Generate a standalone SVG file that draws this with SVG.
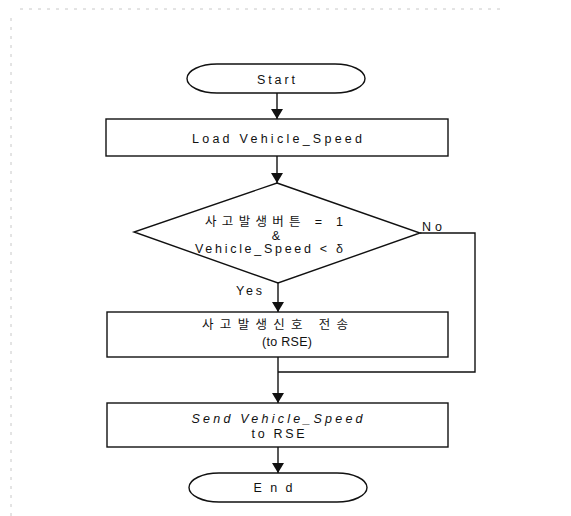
<svg xmlns="http://www.w3.org/2000/svg" width="571" height="516" viewBox="0 0 571 516">
<style>
.shape{fill:#fff;stroke:#111;stroke-width:1.4}
.edge{fill:none;stroke:#111;stroke-width:1.4}
text{font-family:"Liberation Sans","Noto Sans CJK KR",sans-serif;font-size:12.5px;fill:#111;text-anchor:middle}
.frame{stroke:#c8c8c8;stroke-width:1;stroke-dasharray:3 6;fill:none}
</style>
<defs>
<marker id="arr" viewBox="0 0 10 12" refX="10" refY="6" markerWidth="10" markerHeight="12" markerUnits="userSpaceOnUse" orient="auto">
<path d="M0,0 L10,6 L0,12 Z" fill="#111"/>
</marker>
</defs>
<rect width="571" height="516" fill="#fff"/>
<g id="page-frame">
<line class="frame" x1="20" y1="9" x2="500" y2="9"/>
<line class="frame" x1="11" y1="18" x2="11" y2="516"/>
</g>
<g id="connectors">
<line class="edge" x1="277" y1="93" x2="277" y2="119" marker-end="url(#arr)"/>
<line class="edge" x1="277" y1="156" x2="277" y2="183" marker-end="url(#arr)"/>
<line class="edge" x1="278" y1="283" x2="278" y2="312" marker-end="url(#arr)"/>
<polyline class="edge" points="420,233 475,233 475,372 278,372"/>
<line class="edge" x1="278" y1="357" x2="278" y2="403" marker-end="url(#arr)"/>
<line class="edge" x1="278" y1="447" x2="278" y2="473" marker-end="url(#arr)"/>
<text x="432" y="231" textLength="20" lengthAdjust="spacing">No</text>
<text x="249" y="295" textLength="26" lengthAdjust="spacing">Yes</text>
</g>
<g id="start">
<rect class="shape" x="187" y="64" width="178" height="29" rx="30" ry="14.5"/>
<text x="276" y="84" textLength="38" lengthAdjust="spacing">Start</text>
</g>
<g id="load">
<rect class="shape" x="106" y="119" width="342" height="37"/>
<text x="277" y="143" textLength="170" lengthAdjust="spacing">Load Vehicle_Speed</text>
</g>
<g id="decision">
<polygon class="shape" points="277,183 420,233 278,283 134,232"/>
<text x="274" y="226" textLength="138" lengthAdjust="spacing">사고발생버튼 = 1</text>
<text x="276" y="240">&amp;</text>
<text x="269" y="253" textLength="148" lengthAdjust="spacing">Vehicle_Speed &lt; δ</text>
</g>
<g id="send-signal">
<rect class="shape" x="107" y="312" width="341" height="45"/>
<text x="275" y="329" textLength="146" lengthAdjust="spacing">사고발생신호 전송</text>
<text x="287" y="346" textLength="50" lengthAdjust="spacing">(to RSE)</text>
</g>
<g id="send-speed">
<rect class="shape" x="107" y="403" width="341" height="44"/>
<text x="277" y="423" textLength="171" lengthAdjust="spacing" font-style="italic">Send Vehicle_Speed</text>
<text x="278" y="438" textLength="53" lengthAdjust="spacing">to RSE</text>
</g>
<g id="end">
<rect class="shape" x="189" y="473" width="178" height="29" rx="30" ry="14.5"/>
<text x="273" y="492" textLength="39" lengthAdjust="spacing">End</text>
</g>
</svg>
